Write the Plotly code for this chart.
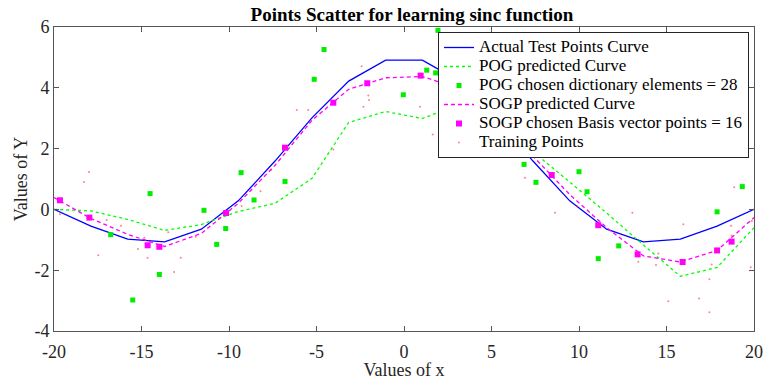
import plotly.graph_objects as go

# ---- data ----
test_x = [-20.0, -17.89, -15.79, -13.68, -11.58, -9.47, -7.37, -5.26, -3.16, -1.05,
          1.05, 3.16, 5.26, 7.37, 9.47, 11.58, 13.68, 15.79, 17.89, 20.0]
actual_y = [0.0, -0.55, -0.98, -1.07, -0.65, 0.28, 1.59, 3.01, 4.22, 4.91,
            4.91, 4.22, 3.01, 1.59, 0.28, -0.65, -1.07, -0.98, -0.55, 0.0]
pog_y = [0.0, -0.05, -0.33, -0.69, -0.5, -0.07, 0.2, 1.02, 2.86, 3.22,
         2.99, 3.45, 3.2, 1.9, 0.9, -0.12, -1.17, -2.2, -1.91, -0.6]
sogp_y = [0.39, -0.3, -0.82, -1.22, -0.79, 0.2, 1.45, 2.93, 3.95, 4.33,
          4.37, 3.97, 3.1, 1.75, 0.49, -0.6, -1.53, -1.73, -1.35, -0.27]

pog_dict_x = [-16.76, -14.51, -11.43, -10.7, -10.19, -9.31, -8.57, -6.8, -13.98, -15.5,
              -5.13, -4.57, -0.04, 1.3, 1.81, 1.94, 6.86, 7.54, 10.0, 10.46,
              11.1, 12.27, 17.89, 19.33, 4.2, 5.3, 6.1, 8.5]
pog_dict_y = [-0.83, 0.52, -0.03, -1.15, -0.63, 1.21, 0.31, 0.92, -2.14, -2.98,
              4.28, 5.26, 3.77, 4.58, 4.49, 5.89, 1.48, 0.89, 1.24, 0.58,
              -1.62, -1.2, -0.08, 0.75, 3.9, 2.8, 3.3, 2.6]

sogp_bv_x = [-19.66, -17.98, -14.65, -13.98, -10.17, -6.8, -4.04, -2.1, 0.95,
             8.44, 11.1, 13.35, 15.92, 17.89, 18.72, 5.3]
sogp_bv_y = [0.3, -0.27, -1.18, -1.23, -0.12, 2.03, 3.51, 4.15, 4.4,
             1.13, -0.52, -1.48, -1.73, -1.35, -1.06, 3.0]

train_x = [-19.66, -18.0, -18.29, -16.99, -16.17, -17.47, -14.84, -14.65, -13.47, -12.76,
           -13.14, -17.98, -13.98, -10.17, -9.28, -6.8, -6.13, -5.47, -4.04, -2.42,
           -2.04, -2.0, -2.32, 0.91, 0.95, 1.64, 2.06, 2.11, 6.91, 8.44,
           8.63, 11.1, 13.05, 13.35, 14.53, 14.4, 13.39, 15.1, 16.86, 17.45,
           17.45, 17.58, 15.92, 17.89, 18.72, 18.87, 19.81, 19.87, 18.69, 15.96,
           -11.9, -8.2, -15.2, -7.6, 9.9]
train_y = [-0.16, 1.23, 0.9, -0.35, -0.54, -1.51, -0.93, -1.59, -0.75, -1.59,
           -2.06, -0.27, -1.23, -0.12, 0.11, 2.03, 3.27, 3.27, 1.97, 4.71,
           3.75, 3.6, 3.38, 3.38, 4.4, 2.46, 5.61, 5.15, 1.04, 1.13,
           -0.11, -0.52, -0.11, -1.48, -1.45, -1.83, -1.72, -3.02, -2.93, -3.38,
           -2.3, -1.81, -1.73, -1.35, -0.86, 0.73, -1.9, -0.38, -0.54, -0.49,
           -0.9, 0.6, -1.3, 1.3, 0.1]

x_ticks = [-20, -15, -10, -5, 0, 5, 10, 15, 20]
y_ticks = [-4, -2, 0, 2, 4, 6]

FONT = "Liberation Serif"
AX = "#555555"


def leg(name):
    # legend entries drawn at 17px while the legend row height follows a smaller font
    return '<span style="font-size:17px">' + name + '</span>'


fig = go.Figure()
fig.add_trace(go.Scatter(x=test_x, y=actual_y, mode="lines", name=leg("Actual Test Points Curve"),
                         line=dict(color="#0000ff", width=1.3)))
fig.add_trace(go.Scatter(x=test_x, y=pog_y, mode="lines", name=leg("POG predicted Curve"),
                         line=dict(color="#00ff00", width=1.3, dash="3px,3px")))
fig.add_trace(go.Scatter(x=pog_dict_x, y=pog_dict_y, mode="markers",
                         name=leg("POG chosen dictionary elements = 28"),
                         marker=dict(color="#00ee00", size=5, symbol="square",
                                     line=dict(width=0))))
fig.add_trace(go.Scatter(x=test_x, y=sogp_y, mode="lines", name=leg("SOGP predicted Curve"),
                         line=dict(color="#ff00ff", width=1.3, dash="4px,3px")))
fig.add_trace(go.Scatter(x=sogp_bv_x, y=sogp_bv_y, mode="markers",
                         name=leg("SOGP chosen Basis vector points = 16"),
                         marker=dict(color="#ff00ff", size=6, symbol="square",
                                     line=dict(width=0))))
fig.add_trace(go.Scatter(x=train_x, y=train_y, mode="markers", name=leg("Training Points"),
                         marker=dict(color="#ff3030", size=2, opacity=0.6, line=dict(width=0))))

fig.update_layout(
    width=764, height=380,
    margin=dict(l=54, r=10, t=27, b=49, autoexpand=False),
    paper_bgcolor="white", plot_bgcolor="white",
    font=dict(family=FONT, color="#262626", size=16),
    title=dict(text="<b>Points Scatter for learning sinc function</b>",
               x=(412 - 54) / 700, xref="paper", xanchor="center",
               y=1 - 14 / 380, yanchor="middle",
               font=dict(family=FONT, size=19, color="black")),
    showlegend=True,
    legend=dict(x=(749 - 54) / 700, y=(331 - 32) / 304, xanchor="right", yanchor="top",
                bgcolor="white", bordercolor="#262626", borderwidth=1,
                font=dict(family=FONT, size=12, color="black"),
                itemwidth=30, tracegroupgap=0),
    xaxis=dict(range=[-20, 20], tickvals=x_ticks, ticktext=[str(v) for v in x_ticks],
               showgrid=False, zeroline=False, showline=True, linecolor=AX, linewidth=1,
               mirror="ticks", ticks="inside", ticklen=5, tickcolor=AX,
               tickfont=dict(family=FONT, size=18, color="#262626"),
               ticklabelstandoff=4,
               title=dict(text="Values of x", font=dict(family=FONT, size=18, color="#262626"),
                          standoff=5)),
    yaxis=dict(range=[-4, 6], tickvals=y_ticks, ticktext=[str(v) for v in y_ticks],
               showgrid=False, zeroline=False, showline=True, linecolor=AX, linewidth=1,
               mirror="ticks", ticks="inside", ticklen=5, tickcolor=AX,
               tickfont=dict(family=FONT, size=18, color="#262626"),
               title=dict(text="Values of Y", font=dict(family=FONT, size=18, color="#262626"),
                          standoff=2)),
)

fig.write_html("out.html")
